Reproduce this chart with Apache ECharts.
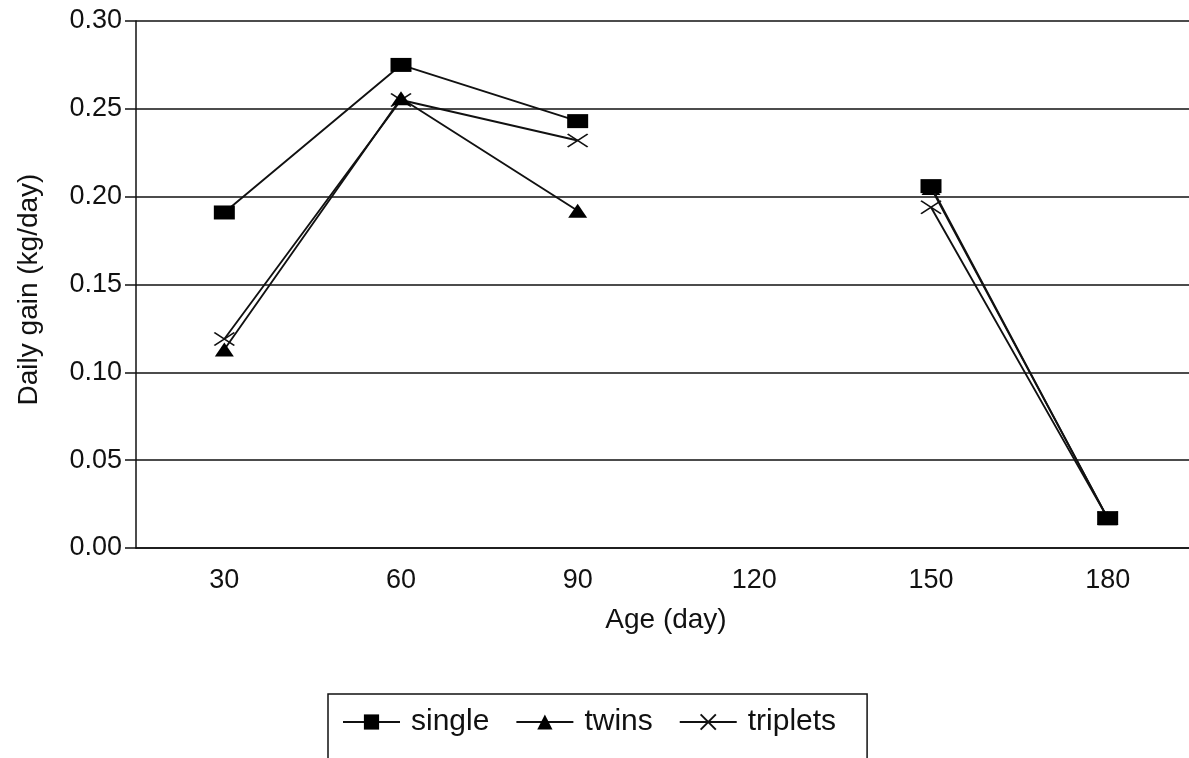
<!DOCTYPE html>
<html>
<head>
<meta charset="utf-8">
<script src="https://cdn.jsdelivr.net/npm/echarts@6/dist/echarts.min.js"></script>
<style>
  html, body { margin: 0; padding: 0; background: #fff; }
  #chart { width: 1189px; height: 758px; }
</style>
</head>
<body>
<div id="chart"></div>
<script>
// Data
const ages = ['30', '60', '90', '120', '150', '180'];
const single = [0.191, 0.275, 0.243, null, 0.206, 0.017];
const twins = [0.113, 0.256, 0.192, null, 0.205, 0.017];
const triplets = [0.119, 0.255, 0.232, null, 0.194, 0.017];
const yTicks = { min: 0, max: 0.30, interval: 0.05 };

const FONT = "'Liberation Sans', Arial, Helvetica, sans-serif";
const chart = echarts.init(document.getElementById('chart'));

const lineStyle = { color: '#111', width: 1.9 };

chart.setOption({
  backgroundColor: '#fff',
  animation: false,
  grid: { left: 136, top: 21, bottom: 210, width: 1060, containLabel: false, outerBoundsMode: 'none' },
  legend: {
    data: ['single', 'twins', 'triplets'],
    left: 328,
    top: 694,
    padding: [12, 31, 60, 14],
    borderColor: '#111',
    borderWidth: 1.5,
    itemWidth: 57,
    itemHeight: 19,
    itemGap: 26,
    textStyle: { fontFamily: FONT, fontSize: 30, color: '#111', padding: [0, 0, 0, 6], lineHeight: 32 }
  },
  xAxis: {
    type: 'category',
    data: ages,
    boundaryGap: true,
    name: 'Age (day)',
    nameLocation: 'middle',
    nameGap: 58,
    nameTextStyle: { fontFamily: FONT, fontSize: 28, color: '#111' },
    axisLine: { lineStyle: { color: '#111', width: 1.5 } },
    axisTick: { alignWithLabel: true, length: 8, lineStyle: { color: '#111', width: 1.5 } },
    axisLabel: { fontFamily: FONT, fontSize: 27, color: '#111', margin: 19 },
    splitLine: { show: false }
  },
  yAxis: {
    type: 'value',
    min: yTicks.min,
    max: yTicks.max,
    interval: yTicks.interval,
    name: 'Daily gain (kg/day)',
    nameLocation: 'middle',
    nameGap: 93,
    nameTextStyle: { fontFamily: FONT, fontSize: 28, color: '#111', padding: [0, 10, 0, 0] },
    axisLine: { show: true, lineStyle: { color: '#111', width: 1.5 } },
    axisTick: { show: true, length: 11, lineStyle: { color: '#111', width: 1.5 } },
    axisLabel: { fontFamily: FONT, fontSize: 27, color: '#111', margin: 14, formatter: v => v.toFixed(2) },
    splitLine: { show: true, lineStyle: { color: '#111', width: 1.5 } }
  },
  series: [
    {
      name: 'single', type: 'line', data: single, z: 4,
      symbol: 'rect', symbolSize: [21, 14],
      lineStyle: lineStyle,
      itemStyle: { color: '#000', borderColor: '#000', borderWidth: 0 },
      connectNulls: false
    },
    {
      name: 'twins', type: 'line', data: twins, z: 3,
      symbol: 'triangle', symbolSize: [19, 14],
      lineStyle: lineStyle,
      itemStyle: { color: '#000', borderColor: '#000', borderWidth: 0 },
      connectNulls: false
    },
    {
      name: 'triplets', type: 'line', data: triplets, z: 2,
      symbol: 'path://M0,0L20,14M20,0L0,14', symbolSize: [20, 13],
      lineStyle: lineStyle,
      itemStyle: { color: 'rgba(0,0,0,0)', borderColor: '#111', borderWidth: 1.5 },
      connectNulls: false
    }
  ]
});
</script>
</body>
</html>
